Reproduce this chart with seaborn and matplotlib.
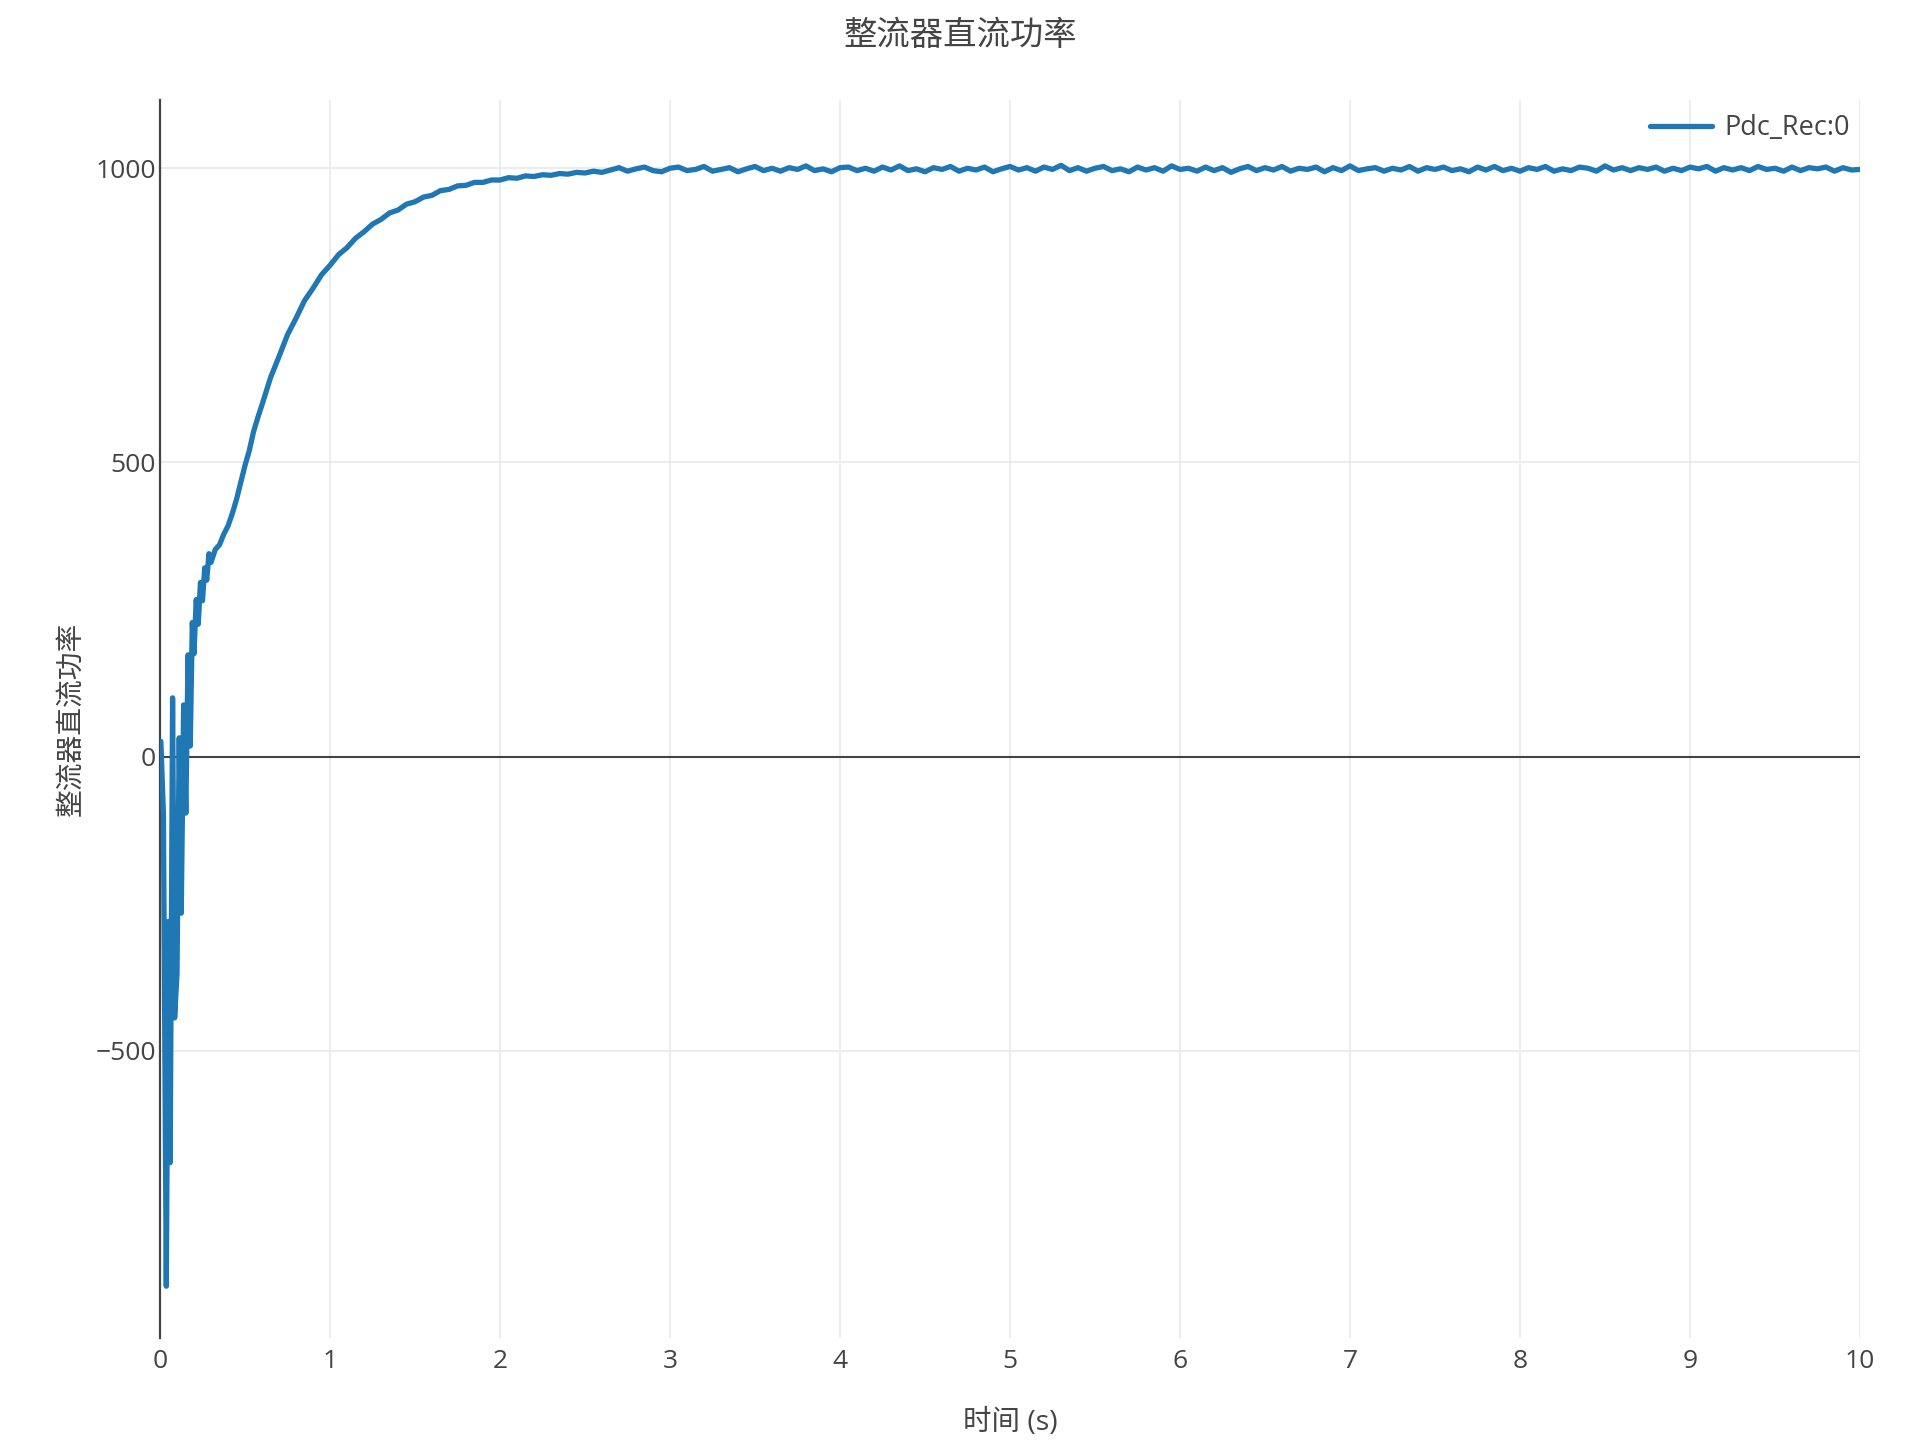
import matplotlib

matplotlib.use("Agg")
import matplotlib.pyplot as plt  # noqa: E402
import numpy as np  # noqa: E402
import pandas as pd  # noqa: E402
import seaborn as sns  # noqa: E402

# ---------------------------------------------------------------------------
# Data
# ---------------------------------------------------------------------------
TITLE = "整流器直流功率"
X_LABEL = "时间 (s)"
Y_LABEL = "整流器直流功率"
SERIES = "Pdc_Rec:0"

# start-up transient (0 - 0.3 s)
t_start = [0.000, 0.005, 0.020, 0.037, 0.050, 0.060, 0.074, 0.086, 0.100,
           0.113, 0.125, 0.139, 0.152, 0.165, 0.178, 0.190, 0.200, 0.213,
           0.225, 0.238, 0.250, 0.263, 0.275, 0.288, 0.300]
p_start = [25, 26, -96, -900, -280, -690, 100, -444, -370,
           32, -266, 88, -96, 173, 18, 228, 175, 267,
           225, 296, 265, 321, 300, 345, 330]

# rise (0.325 - 2.6 s)
t_rise = [0.325, 0.350, 0.375, 0.400, 0.425, 0.450, 0.475, 0.500, 0.525,
          0.550, 0.575, 0.600, 0.65, 0.70, 0.75, 0.80, 0.85, 0.90, 0.95,
          1.00, 1.05, 1.10, 1.15, 1.20, 1.25, 1.30, 1.35, 1.40, 1.45, 1.50,
          1.55, 1.60, 1.65, 1.70, 1.75, 1.80, 1.85, 1.90, 1.95, 2.00, 2.05,
          2.10, 2.15, 2.20, 2.25, 2.30, 2.35, 2.40, 2.45, 2.50, 2.55, 2.60]
p_rise = [352, 360, 378, 392, 413, 437, 466, 495, 520,
          552, 576, 598, 644, 680, 717, 745, 775, 796, 819,
          835, 853, 865, 881, 892, 905, 913, 924, 929, 939, 943,
          951, 954, 962, 964, 970, 971, 976, 976, 980, 980, 984,
          983, 987, 986, 989, 988, 991, 990, 993, 992, 995, 993]

# settled part (2.65 - 10 s, every 0.05 s)
p_settle = [
    997, 1001, 995, 999, 1002, 996, 994, 1000, 1002, 996,
    998, 1003, 995, 998, 1001, 994, 999, 1003, 996, 1000,
    995, 1001, 998, 1004, 996, 999, 994, 1001, 1002, 996,
    1000, 995, 1002, 997, 1004, 996, 999, 994, 1001, 998,
    1003, 995, 1000, 997, 1002, 994, 999, 1003, 997, 1001,
    995, 1002, 998, 1005, 996, 1001, 995, 1000, 1003, 996,
    999, 994, 1002, 997, 1001, 995, 1004, 998, 1000, 995,
    1002, 996, 1001, 993, 999, 1003, 996, 1001, 997, 1003,
    995, 1000, 998, 1002, 994, 1001, 996, 1004, 996, 999,
    1001, 995, 1000, 997, 1003, 995, 1001, 998, 1002, 996,
    999, 994, 1002, 997, 1003, 996, 1000, 995, 1001, 998,
    1003, 995, 999, 996, 1002, 1000, 995, 1004, 997, 1001,
    996, 1001, 998, 1002, 995, 1000, 996, 1002, 999, 1003,
    995, 1001, 997, 1001, 996, 1003, 998, 1000, 995, 1002,
    996, 1001, 999, 1002, 995, 1001, 997, 998,
]
t_settle = list(np.round(np.linspace(2.65, 10.0, len(p_settle)), 3))

Y_TICKS = [-500, 0, 500, 1000]
Y_TICK_LABELS = ["\u2212500", "0", "500", "1000"]
X_TICKS = list(range(0, 11))

# ---------------------------------------------------------------------------
# Style
# ---------------------------------------------------------------------------
sns.set_theme(style="white")
plt.rcParams["font.family"] = ["Open Sans", "Noto Sans CJK SC", "DejaVu Sans"]
TEXT = "#444444"
GRID = "#ececec"
LINE = "#1f77b4"

df = pd.DataFrame({
    "t": t_start + t_rise + t_settle,
    "p": p_start + p_rise + p_settle,
})

W, H = 1920, 1440
fig = plt.figure(figsize=(W / 100, H / 100), dpi=100)
left, right, top, bottom = 160, 1860, 100, 1338
ax = fig.add_axes([left / W, 1 - bottom / H, (right - left) / W, (bottom - top) / H])

for x in X_TICKS[1:]:
    ax.axvline(x, color=GRID, lw=1.4, zorder=0)
for y in (-500, 500, 1000):
    ax.axhline(y, color=GRID, lw=1.4, zorder=0)
ax.axhline(0, color=TEXT, lw=1.5, zorder=1)

sns.lineplot(data=df, x="t", y="p", estimator=None, sort=False,
             color=LINE, lw=3.8, label=SERIES, ax=ax, zorder=3)

ax.set_xlim(0, 10)
ax.set_ylim(-988, 1116)
ax.set_xticks(X_TICKS)
ax.set_xticklabels([str(x) for x in X_TICKS])
ax.set_yticks(Y_TICKS)
ax.set_yticklabels(Y_TICK_LABELS)
ax.tick_params(axis="both", length=0, labelsize=19, colors=TEXT)
ax.tick_params(axis="x", pad=8)
ax.tick_params(axis="y", pad=3)

for side in ("top", "right", "bottom"):
    ax.spines[side].set_visible(False)
ax.spines["left"].set_color(TEXT)
ax.spines["left"].set_linewidth(1.6)

ax.set_xlabel(X_LABEL, fontsize=20.5, color=TEXT, va="center")
ax.xaxis.set_label_coords(0.5, (bottom - 1423) / (bottom - top))
ax.set_ylabel(Y_LABEL, fontsize=20, color=TEXT, va="center")
ax.yaxis.set_label_coords((73 - left) / (right - left), 0.5)

fig.suptitle(TITLE, x=0.5, y=1 - 37 / H, va="center", fontsize=24, color=TEXT)

ax.legend(loc="center right", bbox_to_anchor=(1850 / W, 1 - 128 / H),
          bbox_transform=fig.transFigure, frameon=False, fontsize=19.5,
          labelcolor=TEXT, handlelength=2.3, handletextpad=0.45,
          borderpad=0, borderaxespad=0)

fig.savefig("out.png", dpi=100, facecolor="white")
